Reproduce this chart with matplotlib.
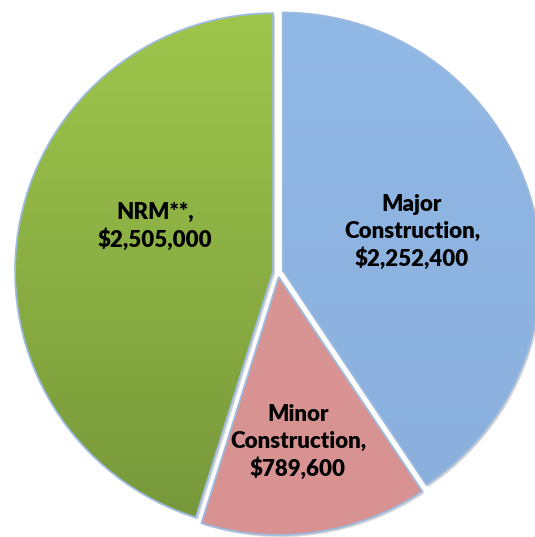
import numpy as np
import matplotlib.pyplot as plt
from matplotlib.colors import LinearSegmentedColormap

# data
labels = ["Major\nConstruction,\n$2,252,400", "Minor\nConstruction,\n$789,600", "NRM**,\n$2,505,000"]
values = [2252400, 789600, 2505000]
colors = ["#8EB4E3", "#D99594", "#9BC34A"]
label_pos = [(412, 232), (298, 442), (155, 226)]  # pixel positions (from top-left)

W, H = 535, 537
fig = plt.figure(figsize=(W / 100, H / 100), dpi=100)
ax = fig.add_axes([0, 0, 1, 1])

cx, cy, r = 278, H - 272, 258
explode = [5, 5, 5]  # pie explode is in data units here (pixels)

# soft shadow behind slices
shadow, _ = ax.pie(values, radius=r, center=(cx + 2, cy - 2), startangle=90,
                   counterclock=False, explode=explode, colors=["#d4d4d4"] * 3,
                   frame=True)
for w in shadow:
    w.set_zorder(1)

wedges, _ = ax.pie(values, radius=r, center=(cx, cy), startangle=90,
                   counterclock=False, explode=explode, colors=colors,
                   wedgeprops=dict(edgecolor="#9DBBE0", linewidth=1.3),
                   frame=True)
ax.set_xlim(0, W)
ax.set_ylim(0, H)
ax.set_aspect("equal")
ax.axis("off")

# vertical gradients clipped to slices
grads = [("#92B8E6", "#8AAFDD"), ("#DB9897", "#D79291"), ("#9FC74C", "#76963A")]
for w, (top, bot) in zip(wedges, grads):
    cmap = LinearSegmentedColormap.from_list("g", [bot, top])
    grad = np.linspace(0, 1, 256).reshape(-1, 1)
    im = ax.imshow(grad, cmap=cmap, extent=[cx - r - 10, cx + r + 10, cy - r - 10, cy + r + 10],
                   origin="lower", aspect="auto", zorder=2.5)
    im.set_clip_path(w)
    w.set_facecolor("none")
    w.set_zorder(3)
ax.set_xlim(0, W)
ax.set_ylim(0, H)

for lab, (px, py) in zip(labels, label_pos):
    ax.text(px, H - py, lab, ha="center", va="center", fontsize=16,
            fontweight="heavy", family="Lato", linespacing=1.3, color="black", zorder=5)

fig.savefig("out.png", dpi=100)
